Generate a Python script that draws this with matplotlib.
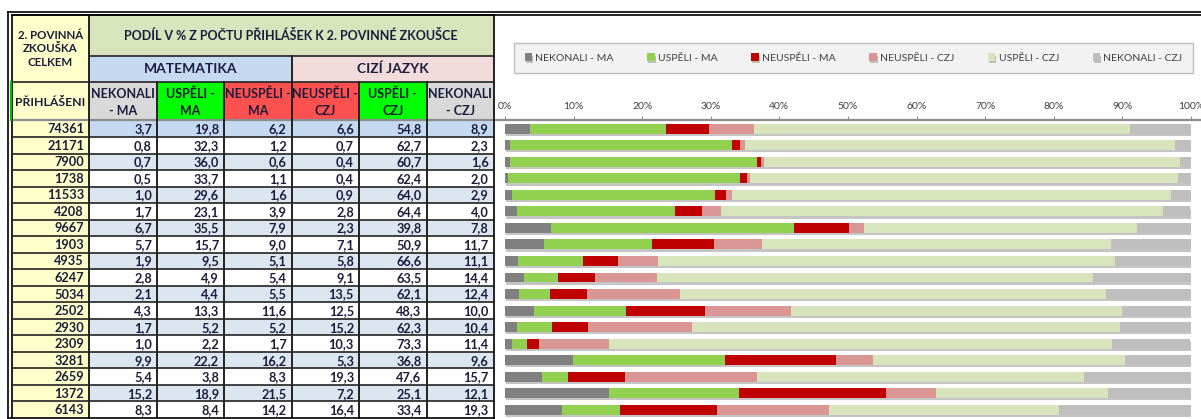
import matplotlib
matplotlib.use("Agg")
import matplotlib.pyplot as plt
import matplotlib.patches as patches
import matplotlib.patheffects as pe
import numpy as np

plt.rcParams['font.family'] = ['Lato', 'DejaVu Sans']

# -------------- data --------------
prihlaseni = [74361, 21171, 7900, 1738, 11533, 4208, 9667, 1903, 4935,
              6247, 5034, 2502, 2930, 2309, 3281, 2659, 1372, 6143]
nekonali_ma = [3.7, 0.8, 0.7, 0.5, 1.0, 1.7, 6.7, 5.7, 1.9,
               2.8, 2.1, 4.3, 1.7, 1.0, 9.9, 5.4, 15.2, 8.3]
uspeli_ma = [19.8, 32.3, 36.0, 33.7, 29.6, 23.1, 35.5, 15.7, 9.5,
             4.9, 4.4, 13.3, 5.2, 2.2, 22.2, 3.8, 18.9, 8.4]
neuspeli_ma = [6.2, 1.2, 0.6, 1.1, 1.6, 3.9, 7.9, 9.0, 5.1,
               5.4, 5.5, 11.6, 5.2, 1.7, 16.2, 8.3, 21.5, 14.2]
neuspeli_czj = [6.6, 0.7, 0.4, 0.4, 0.9, 2.8, 2.3, 7.1, 5.8,
                9.1, 13.5, 12.5, 15.2, 10.3, 5.3, 19.3, 7.2, 16.4]
uspeli_czj = [54.8, 62.7, 60.7, 62.4, 64.0, 64.4, 39.8, 50.9, 66.6,
              63.5, 62.1, 48.3, 62.3, 73.3, 36.8, 47.6, 25.1, 33.4]
nekonali_czj = [8.9, 2.3, 1.6, 2.0, 2.9, 4.0, 7.8, 11.7, 11.1,
                14.4, 12.4, 10.0, 10.4, 11.4, 9.6, 15.7, 12.1, 19.3]

series_labels = ['NEKONALI - MA', 'USPĚLI - MA', 'NEUSPĚLI - MA',
                 'NEUSPĚLI - CZJ', 'USPĚLI - CZJ', 'NEKONALI - CZJ']
header_labels = ['NEKONALI\n- MA', 'USPĚLI -\nMA', 'NEUSPĚLI -\nMA',
                 'NEUSPĚLI -\nCZJ', 'USPĚLI -\nCZJ', 'NEKONALI\n- CZJ']
tick_labels = ['0%', '10%', '20%', '30%', '40%', '50%', '60%', '70%', '80%', '90%', '100%']

series = [nekonali_ma, uspeli_ma, neuspeli_ma, neuspeli_czj, uspeli_czj, nekonali_czj]
bar_colors = ['#808080', '#92d050', '#c00000', '#da9694', '#d8e4bc', '#bfbfbf']
head_colors = ['#d9d9d9', '#00ff00', '#ff5050', '#ff5050', '#00ff00', '#d9d9d9']

W, H = 1201, 419
txt = '#1c1c3c'

fig = plt.figure(figsize=(W / 100, H / 100), dpi=100)

# -------------- table drawn in pixel coords --------------
tab = fig.add_axes([0, 0, 1, 1])
tab.set_xlim(0, W)
tab.set_ylim(H, 0)
tab.axis('off')

col_x = [12, 89, 157, 224, 291.5, 359, 426.5, 493.5]
head_y = [15.5, 56, 82, 120.5]
n = len(prihlaseni)
row_h = (418 - 120.5) / n
row_y = [120.5 + i * row_h for i in range(n + 1)]

def cell(x0, x1, y0, y1, fc):
    tab.add_patch(patches.Rectangle((x0, y0), x1 - x0, y1 - y0, fc=fc, ec='none', zorder=1))

# header cells
cell(col_x[0], col_x[1], head_y[0], head_y[2], '#ffffcc')
cell(col_x[0], col_x[1], head_y[2], head_y[3], '#ffffcc')
cell(col_x[1], col_x[7], head_y[0], head_y[1], '#d8e4bc')
cell(col_x[1], col_x[4], head_y[1], head_y[2], '#c5d9f1')
cell(col_x[4], col_x[7], head_y[1], head_y[2], '#f2dcdb')
for j in range(6):
    cell(col_x[j + 1], col_x[j + 2], head_y[2], head_y[3], head_colors[j])
    tab.text((col_x[j + 1] + col_x[j + 2]) / 2, (head_y[2] + head_y[3]) / 2 + 1, header_labels[j],
             ha='center', va='center', fontsize=9, fontweight='bold', color=txt,
             linespacing=1.55, zorder=3)

tab.text((col_x[0] + col_x[1]) / 2, (head_y[0] + head_y[2]) / 2, '2. POVINNÁ\nZKOUŠKA\nCELKEM',
         ha='center', va='center', fontsize=8.3, fontweight='bold', color=txt, linespacing=1.3, zorder=3)
tab.text((col_x[0] + col_x[1]) / 2, (head_y[2] + head_y[3]) / 2 + 1, 'PŘIHLÁŠENI',
         ha='center', va='center', fontsize=8.8, fontweight='bold', color=txt, zorder=3)
tab.text((col_x[1] + col_x[7]) / 2, (head_y[0] + head_y[1]) / 2, 'PODÍL V % Z POČTU PŘIHLÁŠEK K 2. POVINNÉ ZKOUŠCE',
         ha='center', va='center', fontsize=9, fontweight='bold', color=txt, zorder=3)
tab.text((col_x[1] + col_x[4]) / 2, (head_y[1] + head_y[2]) / 2, 'MATEMATIKA',
         ha='center', va='center', fontsize=10, fontweight='bold', color=txt, zorder=3)
tab.text((col_x[4] + col_x[7]) / 2, (head_y[1] + head_y[2]) / 2, 'CIZÍ JAZYK',
         ha='center', va='center', fontsize=10, fontweight='bold', color=txt, zorder=3)

# data rows
for i in range(n):
    y0, y1 = row_y[i], row_y[i + 1]
    ym = (y0 + y1) / 2 + 0.5
    fc = '#c5d9f1' if i == 0 else ('#dce6f1' if i % 2 == 0 else 'white')
    cell(col_x[0], col_x[1], y0, y1, '#ffffcc')
    cell(col_x[1], col_x[7], y0, y1, fc)
    tab.text(col_x[1] - 5, ym, str(prihlaseni[i]), ha='right', va='center',
             fontsize=9.2, fontweight='bold', color=txt, zorder=3)
    for j, s in enumerate(series):
        tab.text(col_x[j + 2] - 5, ym, f"{s[i]:.1f}".replace('.', ','), ha='right', va='center',
                 fontsize=9.2, fontweight='bold', color=txt, zorder=3)

# grid lines
tab.plot([col_x[0], col_x[7]], [head_y[0], head_y[0]], color='#222222', lw=1.2, zorder=4)
tab.plot([col_x[1], col_x[7]], [head_y[1], head_y[1]], color='#222222', lw=1.2, zorder=4)
tab.plot([col_x[0], col_x[7]], [head_y[2], head_y[2]], color='#222222', lw=1.2, zorder=4)
for y in row_y[1:-1]:
    tab.plot([col_x[0], col_x[7]], [y, y], color='#222222', lw=1.2, zorder=4)
tab.plot([col_x[0], W], [head_y[3], head_y[3]], color='#8c8c8c', lw=1.6, zorder=4)
for k, x in enumerate(col_x):
    top = head_y[0] if k in (0, 1, 7) else (head_y[1] if k == 4 else head_y[2])
    tab.plot([x, x], [top, 418], color='#222222', lw=1.4, zorder=4)
tab.plot([11, 11], [head_y[2], head_y[3]], color='#00c000', lw=1.5, zorder=5)

# outer frame (double lines)
tab.plot([7.5, W], [12, 12], color='black', lw=1.2, zorder=5)
tab.plot([11.5, W], [15.5, 15.5], color='black', lw=1.2, zorder=5)
tab.plot([7.5, 7.5], [12, 418], color='black', lw=1.2, zorder=5)
tab.plot([7.5, col_x[7]], [418, 418], color='black', lw=1.2, zorder=5)

# -------------- stacked bar chart --------------
x0, x1 = 505, 1191
ax = fig.add_axes([x0 / W, 1 - 418 / H, (x1 - x0) / W, (418 - 120.5) / H])
ax.patch.set_alpha(0)
ypos = np.arange(n)
left = np.zeros(n)
shadow = [pe.SimplePatchShadow(offset=(0.8, -1.6), shadow_rgbFace='#7f7f7f', alpha=0.45), pe.Normal()]
for s, lab, c in zip(series, series_labels, bar_colors):
    bars = ax.barh(ypos, s, left=left, height=0.6, color=c, label=lab, edgecolor='none')
    for b in bars:
        b.set_path_effects(shadow)
    left += np.array(s)

ax.set_xlim(0, 100)
ax.set_ylim(n - 0.5, -0.5)
ax.set_yticks([])
ax.xaxis.tick_top()
ax.set_xticks(np.arange(0, 101, 10))
ax.set_xticklabels(tick_labels)
ax.tick_params(axis='x', direction='out', length=3, width=0.8, color='#8c8c8c', pad=4,
               labelsize=7.5, labelcolor='#404040')
for sp in ['left', 'right', 'bottom']:
    ax.spines[sp].set_visible(False)
ax.spines['top'].set_color('#8c8c8c')
ax.spines['top'].set_linewidth(1.2)

handles, labels = ax.get_legend_handles_labels()
leg = fig.legend(handles, labels, ncol=6, loc='center', mode='expand',
                 bbox_to_anchor=(509 / W, 1 - 73 / H, 689 / W, 30 / H),
                 fontsize=7.5, frameon=True, fancybox=False, framealpha=1,
                 facecolor='#f2f2f2', edgecolor='#bfbfbf',
                 handlelength=0.7, handleheight=0.7, handletextpad=0.3,
                 borderpad=1.0, labelcolor='#404040')

fig.savefig('out.png', dpi=100)
